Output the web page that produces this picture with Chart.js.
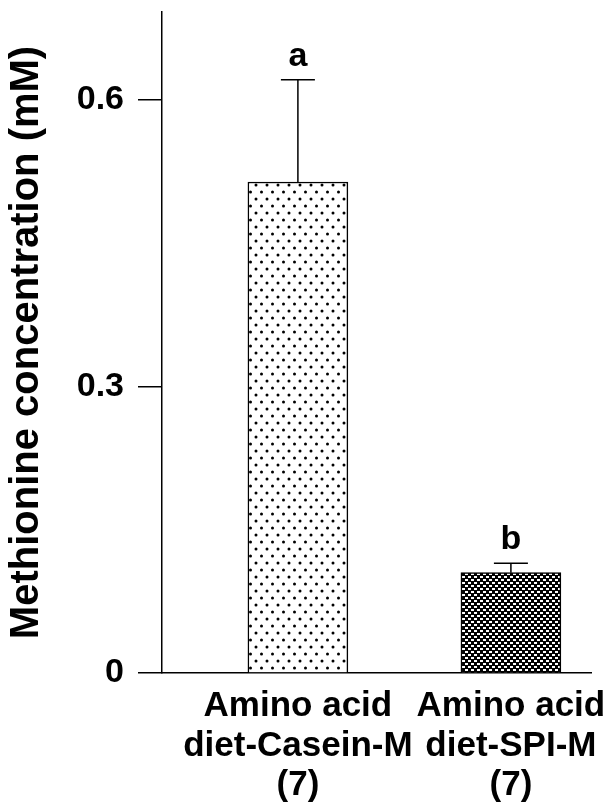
<!DOCTYPE html>
<html lang="en">
<head>
    <meta charset="UTF-8">
    <title>Methionine concentration</title>
    <script src="https://cdn.jsdelivr.net/npm/chart.js"></script>
    <style>
        body {
            margin: 0;
            background: #ffffff;
        }

        .chart-container {
            width: 610px;
            height: 805px;
        }
    </style>
</head>
<body>

    <div class="chart-container">
        <canvas id="methChart"></canvas>
    </div>

    <script>
        const categories = [
            ["Amino acid", "diet-Casein-M", "(7)"],
            ["Amino acid", "diet-SPI-M", "(7)"]
        ];
        const methionine = [0.514, 0.105];
        const sem = [0.107, 0.010];
        const letters = ["a", "b"];
        const yTicks = [0, 0.3, 0.6];

        // fill patterns: sparse dots and a dense checker
        function dotPattern() {
            const c = document.createElement('canvas');
            c.width = 11; c.height = 14;
            const g = c.getContext('2d');
            g.fillStyle = '#fff';
            g.fillRect(0, 0, 11, 14);
            g.fillStyle = '#000';
            g.beginPath();
            g.arc(3, 3, 1.5, 0, Math.PI * 2);
            g.arc(8.5, 10, 1.5, 0, Math.PI * 2);
            g.fill();
            return g.createPattern(c, 'repeat');
        }

        function checkPattern() {
            const c = document.createElement('canvas');
            c.width = 6; c.height = 6;
            const g = c.getContext('2d');
            g.fillStyle = '#000';
            g.fillRect(0, 0, 6, 6);
            g.fillStyle = '#fff';
            g.fillRect(0, 0, 3, 2);
            g.fillRect(3, 3, 3, 2);
            return g.createPattern(c, 'repeat');
        }

        const errorBars = {
            id: 'errorBars',
            afterDatasetsDraw(chart) {
                const ctx = chart.ctx;
                const y = chart.scales.y;
                const meta = chart.getDatasetMeta(0);
                ctx.save();
                ctx.strokeStyle = '#000';
                ctx.lineWidth = 1.5;
                ctx.fillStyle = '#000';
                ctx.font = 'bold 34px "Liberation Sans", Arial, sans-serif';
                ctx.textAlign = 'center';
                ctx.textBaseline = 'alphabetic';
                meta.data.forEach((bar, i) => {
                    const top = y.getPixelForValue(methionine[i] + sem[i]);
                    ctx.beginPath();
                    ctx.moveTo(bar.x, bar.y);
                    ctx.lineTo(bar.x, top);
                    ctx.moveTo(bar.x - 17, top);
                    ctx.lineTo(bar.x + 17, top);
                    ctx.stroke();
                    ctx.fillText(letters[i], bar.x, top - 14);
                });
                ctx.restore();
            }
        };

        Chart.defaults.font.family = '"Liberation Sans", Arial, sans-serif';
        Chart.defaults.font.weight = 'bold';
        Chart.defaults.color = '#000';

        const ctx = document.getElementById('methChart').getContext('2d');
        new Chart(ctx, {
            type: 'bar',
            data: {
                datasets: [{
                    data: methionine.map((v, i) => ({ x: i, y: v })),
                    backgroundColor: [dotPattern(), checkPattern()],
                    borderColor: '#000',
                    borderWidth: 1.5,
                    borderSkipped: 'bottom',
                    barThickness: 100
                }]
            },
            options: {
                responsive: true,
                maintainAspectRatio: false,
                animation: false,
                layout: {
                    padding: { top: 12, right: 19, left: 0, bottom: 0 }
                },
                plugins: {
                    legend: { display: false },
                    tooltip: { enabled: false }
                },
                scales: {
                    x: {
                        type: 'linear',
                        offset: false,
                        min: -0.638,
                        max: 1.376,
                        grid: { offset: false, drawOnChartArea: false, drawTicks: false },
                        border: { display: true, color: '#000', width: 1.5 },
                        ticks: {
                            padding: 13,
                            autoSkip: false,
                            font: { size: 35, weight: 'bold', lineHeight: 1.14 },
                            maxRotation: 0,
                            callback: (v) => categories[v]
                        },
                        afterBuildTicks: (scale) => {
                            scale.ticks = categories.map((_, i) => ({ value: i }));
                        },
                        afterFit: (scale) => {
                            scale.height = 132;
                            scale.paddingLeft = 0;
                            scale.paddingRight = 0;
                        }
                    },
                    y: {
                        min: 0,
                        max: 0.692,
                        grid: {
                            drawOnChartArea: false,
                            drawTicks: true,
                            tickLength: 24,
                            color: '#000',
                            lineWidth: 1.5
                        },
                        border: { display: true, color: '#000', width: 1.5 },
                        ticks: {
                            padding: 14,
                            font: { size: 34, weight: 'bold' },
                            callback: (v) => String(v)
                        },
                        afterBuildTicks: (scale) => {
                            scale.ticks = yTicks.map(v => ({ value: v }));
                        },
                        afterFit: (scale) => {
                            scale.width = 162;
                            scale.paddingTop = 0;
                            scale.paddingBottom = 0;
                        },
                        title: {
                            display: true,
                            text: 'Methionine concentration (mM)',
                            font: { size: 40, weight: 'bold' },
                            padding: { top: 3, bottom: 0 }
                        }
                    }
                }
            },
            plugins: [errorBars]
        });
    </script>

</body>
</html>
